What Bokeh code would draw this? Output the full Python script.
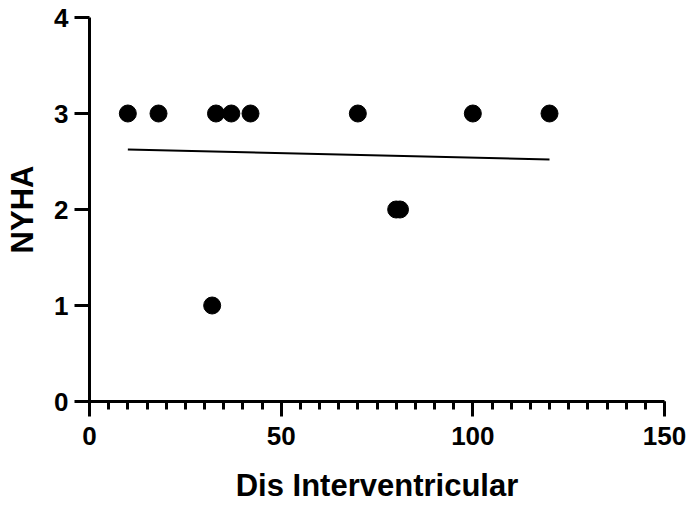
from bokeh.plotting import figure
from bokeh.models import Range1d, FixedTicker
from bokeh.embed import file_html
from bokeh.resources import INLINE

# Data
dis_interventricular = [10, 18, 33, 37, 42, 70, 100, 120, 32, 80, 81]
nyha = [3, 3, 3, 3, 3, 3, 3, 3, 1, 2, 2]
# fitted line endpoints (as drawn in the reference)
fit_x = [10, 120]
fit_y = [2.625, 2.522]

x_major = [0, 50, 100, 150]
x_minor = list(range(0, 151, 5))
y_major = [0, 1, 2, 3, 4]

FONT = "Liberation Sans"

p = figure(width=689, height=505, output_backend="svg", toolbar_location=None,
           x_range=Range1d(0, 150), y_range=Range1d(0, 4),
           min_border_left=89, min_border_right=25, min_border_top=17, min_border_bottom=104)
p.outline_line_color = None
p.xgrid.visible = False
p.ygrid.visible = False
p.background_fill_color = "white"
p.border_fill_color = "white"

p.line(fit_x, fit_y, line_color="black", line_width=2)
p.scatter(dis_interventricular, nyha, size=17, fill_color="black", line_color="black")

for ax in (p.xaxis[0], p.yaxis[0]):
    ax.axis_line_width = 3
    ax.axis_line_color = "black"
    ax.major_tick_line_width = 3
    ax.minor_tick_line_width = 3
    ax.major_tick_in = 0
    ax.minor_tick_in = 0
    ax.major_label_text_font = FONT
    ax.major_label_text_font_style = "bold"
    ax.major_label_text_font_size = "26px"
    ax.major_label_text_color = "black"
    ax.axis_label_text_font = FONT
    ax.axis_label_text_font_style = "bold"
    ax.axis_label_text_font_size = "31px"
    ax.axis_label_text_color = "black"

xa = p.xaxis[0]
xa.ticker = FixedTicker(ticks=x_major, minor_ticks=x_minor)
xa.major_tick_out = 15
xa.minor_tick_out = 8
xa.major_label_standoff = 10
xa.axis_label = "Dis Interventricular"
xa.axis_label_standoff = 20

ya = p.yaxis[0]
ya.ticker = FixedTicker(ticks=y_major, minor_ticks=[])
ya.major_tick_out = 15
ya.minor_tick_out = 0
ya.major_label_standoff = 6
ya.axis_label = "NYHA"
ya.axis_label_standoff = 11

open("out.html", "w").write(file_html(p, INLINE))
